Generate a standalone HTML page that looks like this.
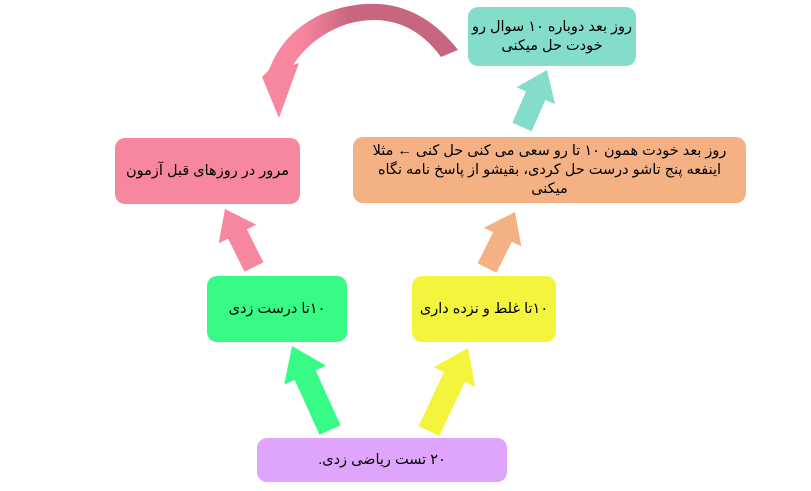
<!DOCTYPE html>
<html><head><meta charset="utf-8"><style>
body{margin:0;width:811px;height:491px;background:#fff;position:relative;overflow:hidden;font-family:"Liberation Sans","DejaVu Sans",sans-serif}
.b{position:absolute;border-radius:10px;display:flex;align-items:center;justify-content:center;text-align:center;direction:rtl;font-size:14.5px;color:#000;line-height:19px;box-sizing:border-box;padding:0;white-space:nowrap}
svg{position:absolute;left:0;top:0}
</style></head><body>
<svg width="811" height="491">
<defs><linearGradient id="g" x1="0" x2="1" y1="0" y2="0"><stop offset="0.2" stop-color="#f7869f"/><stop offset="0.45" stop-color="#c9667f"/><stop offset="1" stop-color="#c5677f"/></linearGradient></defs>
<path d="M458,50 Q405,-18 322,14 Q283,32 269,70 L262,77 L279,118 L299,63 L293,65 Q312,36 347,24 Q405,8 441,57 Z" fill="url(#g)"/>
<g id="arrows"></g>
</svg>
<div class="b" style="left:468px;top:7px;width:168px;height:59px;background:#84dccb">روز بعد دوباره ۱۰ سوال رو<br>خودت حل میکنی</div>
<div class="b" style="left:353px;top:137px;width:393px;height:66px;background:#f4b183">روز بعد خودت همون ۱۰ تا رو سعی می کنی حل کنی ← مثلا<br>اینفعه پنج تاشو درست حل کردی، بقیشو از پاسخ نامه نگاه<br>میکنی</div>
<div class="b" style="left:115px;top:138px;width:185px;height:66px;background:#f7869f">مرور در روزهای قبل آزمون</div>
<div class="b" style="left:207px;top:276px;width:140px;height:66px;background:#38fb86">۱۰تا درست زدی</div>
<div class="b" style="left:412px;top:276px;width:144px;height:66px;background:#f2f53b">۱۰تا غلط و نزده داری</div>
<div class="b" style="left:257px;top:438px;width:250px;height:44px;background:#dfa4fc">۲۰ تست ریاضی زدی.</div>
<script>
function arr(x1,y1,x2,y2,sw,hw,hl,c){var dx=x2-x1,dy=y2-y1,L=Math.hypot(dx,dy),ux=dx/L,uy=dy/L,nx=-uy,ny=ux;
var bx=x2-ux*hl,by=y2-uy*hl;function p(x,y){return x.toFixed(1)+","+y.toFixed(1)}
var pts=[p(x1+nx*sw/2,y1+ny*sw/2),p(bx+nx*sw/2,by+ny*sw/2),p(bx+nx*hw/2,by+ny*hw/2),p(x2,y2),p(bx-nx*hw/2,by-ny*hw/2),p(bx-nx*sw/2,by-ny*sw/2),p(x1-nx*sw/2,y1-ny*sw/2)];
var e=document.createElementNS("http://www.w3.org/2000/svg","polygon");e.setAttribute("points",pts.join(" "));e.setAttribute("fill",c);document.getElementById("arrows").appendChild(e);}
arr(330,430,292,346,23,46,32,"#38fb86");
arr(429,431,468,348,23,46,32,"#f2f53b");
arr(254,267,225,209,21,42,28,"#f7869f");
arr(487,268,515,212,21,42,28,"#f4b183");
arr(522,127,547,70,21,42,28,"#84dccb");
</script>
</body></html>
